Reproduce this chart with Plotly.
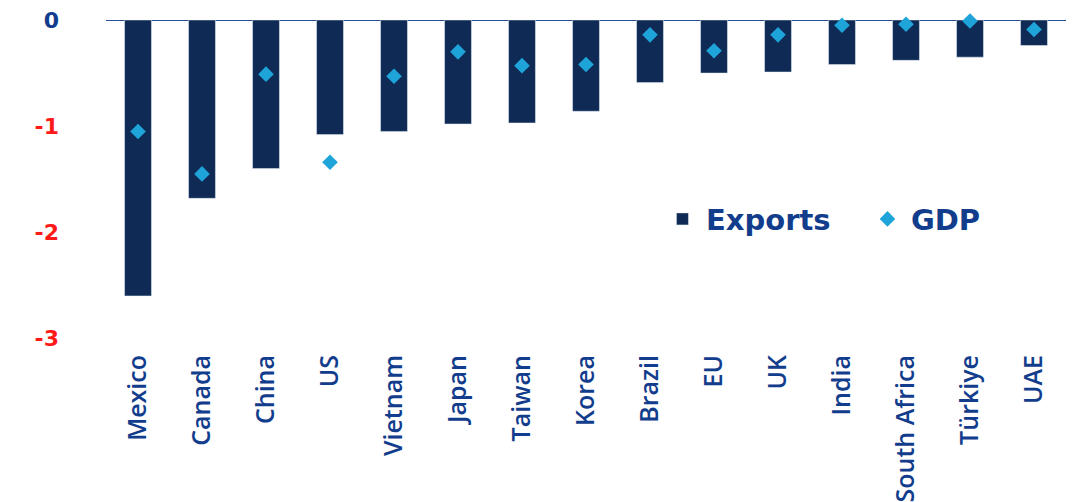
import plotly.graph_objects as go

countries = ["Mexico", "Canada", "China", "US", "Vietnam", "Japan", "Taiwan", "Korea",
             "Brazil", "EU", "UK", "India", "South Africa", "Türkiye", "UAE"]
exports = [-2.60, -1.68, -1.40, -1.08, -1.05, -0.98, -0.97, -0.86,
           -0.59, -0.50, -0.49, -0.42, -0.38, -0.35, -0.24]
gdp = [-1.05, -1.45, -0.51, -1.34, -0.53, -0.30, -0.43, -0.42,
       -0.14, -0.29, -0.14, -0.05, -0.04, -0.01, -0.09]
ytick_vals = [0, -1, -2, -3]
ytick_text = ['<span style="color:#123d8c">0</span>',
              '<span style="color:#ff1a1a">-1</span>',
              '<span style="color:#ff1a1a">-2</span>',
              '<span style="color:#ff1a1a">-3</span>']

NAVY = "#0e2a55"
LIGHT = "#1fa4da"
TEXT = "#123d8c"

fig = go.Figure()
fig.add_trace(go.Bar(x=countries, y=exports, name="Exports", marker_color=NAVY,
                     width=0.42))
fig.add_trace(go.Scatter(x=countries, y=gdp, name="GDP", mode="markers",
                         marker=dict(symbol="diamond", size=12, color=LIGHT),
                         cliponaxis=False))

fig.update_layout(
    width=1068, height=494,
    margin=dict(l=98, r=10, t=12, b=153, autoexpand=False),
    paper_bgcolor="white", plot_bgcolor="white",
    font=dict(family="Open Sans", color=TEXT, size=21),
    showlegend=True,
    legend=dict(orientation="h", x=0.576, y=0.395, xanchor="left", yanchor="middle",
                font=dict(size=29, color=TEXT, family="DejaVu Sans", weight="bold"),
                bgcolor="rgba(0,0,0,0)", itemwidth=37, traceorder="normal",
                entrywidth=153, entrywidthmode="pixels"),
    xaxis=dict(tickangle=-90, showgrid=False, showline=False, ticks="",
               range=[-0.5, 14.5], automargin=False, ticklabeloverflow="allow",
               tickfont=dict(size=25, color=TEXT, family="Open Sans", weight=600)),
    yaxis=dict(range=[-3.1, 0], tickvals=ytick_vals, ticktext=ytick_text,
               showgrid=False, zeroline=False, showline=False, ticks="",
               ticklabelstandoff=46, automargin=False, ticklabeloverflow="allow",
               tickfont=dict(size=22, family="DejaVu Sans", weight="bold")),
    shapes=[dict(type="line", xref="paper", yref="y", x0=0, x1=1, y0=0, y1=0,
                 line=dict(color="#2a4f9e", width=2), layer="below")],
)

fig.write_html("out.html")
